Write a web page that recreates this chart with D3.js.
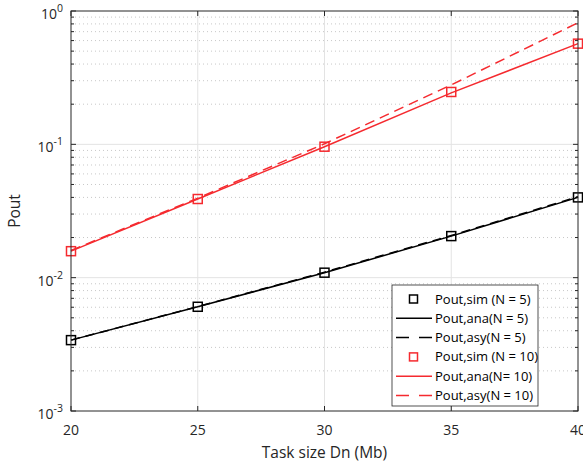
<!DOCTYPE html>
<html><head><meta charset="utf-8">
<script src="https://cdn.jsdelivr.net/npm/d3@7"></script>
<style>body{margin:0;background:#fff}text{font-family:"Open Sans","Liberation Sans",sans-serif}</style>
</head><body><svg id="c" width="583" height="466"></svg>
<script>
const taskSize = [20, 25, 30, 35, 40];
const simN5 = [0.0034, 0.00605, 0.0109, 0.0205, 0.040];
const anaN5 = [0.0034, 0.00605, 0.0109, 0.0205, 0.0400];
const asyN5 = [0.0034, 0.00607, 0.0110, 0.0207, 0.0405];
const simN10 = [0.0158, 0.0389, 0.096, 0.247, 0.569];
const anaN10 = [0.0158, 0.0389, 0.096, 0.243, 0.569];
const asyN10 = [0.0160, 0.0395, 0.101, 0.279, 0.817];
const xTicks = [20, 25, 30, 35, 40];
const yTickExp = [-3, -2, -1, 0];
const legendLabels = ["Pout,sim (N = 5)", "Pout,ana(N = 5)", "Pout,asy(N = 5)", "Pout,sim (N = 10)", "Pout,ana(N= 10)", "Pout,asy(N = 10)"];

const RED = "#f52a2f", BLACK = "#000";
const svg = d3.select("#c");
const L = 71, R = 578, T = 11, B = 411;
const x = d3.scaleLinear().domain([20, 40]).range([L, R]);
const y = d3.scaleLog().domain([1e-3, 1]).range([B, T]);

// grid
const g = svg.append("g");
const minors = [];
for (let e = -3; e < 0; e++) for (let m = 2; m <= 9; m++) minors.push(m * Math.pow(10, e));
g.selectAll(".mn").data(minors).enter().append("line")
  .attr("x1", L).attr("x2", R).attr("y1", d => y(d)).attr("y2", d => y(d))
  .attr("stroke", "#c8c8c8").attr("stroke-width", 1).attr("stroke-dasharray", "1,3");
g.selectAll(".mj").data([1e-2, 1e-1]).enter().append("line")
  .attr("x1", L).attr("x2", R).attr("y1", d => y(d)).attr("y2", d => y(d))
  .attr("stroke", "#e3e3e3").attr("stroke-width", 1);
g.selectAll(".vx").data(xTicks.slice(1, -1)).enter().append("line")
  .attr("x1", d => x(d)).attr("x2", d => x(d)).attr("y1", T).attr("y2", B)
  .attr("stroke", "#e3e3e3").attr("stroke-width", 1);

// ticks
const tk = svg.append("g").attr("stroke", "#262626").attr("stroke-width", 1);
xTicks.forEach(v => {
  tk.append("line").attr("x1", x(v)).attr("x2", x(v)).attr("y1", B).attr("y2", B - 5);
  tk.append("line").attr("x1", x(v)).attr("x2", x(v)).attr("y1", T).attr("y2", T + 5);
});
yTickExp.forEach(e => {
  const yy = y(Math.pow(10, e));
  tk.append("line").attr("x1", L).attr("x2", L + 5).attr("y1", yy).attr("y2", yy);
  tk.append("line").attr("x1", R).attr("x2", R - 5).attr("y1", yy).attr("y2", yy);
});
minors.forEach(d => {
  tk.append("line").attr("x1", L).attr("x2", L + 3).attr("y1", y(d)).attr("y2", y(d));
  tk.append("line").attr("x1", R).attr("x2", R - 3).attr("y1", y(d)).attr("y2", y(d));
});

// lines
const line = d3.line().x((d, i) => x(taskSize[i])).y(d => y(d));
function drawLine(data, color, dash, w) {
  svg.append("path").attr("d", line(data)).attr("fill", "none").attr("stroke", color)
    .attr("stroke-width", w).attr("stroke-dasharray", dash);
}
drawLine(anaN5, BLACK, null, 1.5);
drawLine(asyN5, BLACK, "9,6", 1.5);
drawLine(anaN10, RED, null, 1.5);
drawLine(asyN10, RED, "10,6", 1.5);

function markers(data, color) {
  svg.append("g").selectAll("rect").data(data).enter().append("rect")
    .attr("x", (d, i) => x(taskSize[i]) - 4.5).attr("y", d => y(d) - 4.5)
    .attr("width", 9).attr("height", 9).attr("fill", "none")
    .attr("stroke", color).attr("stroke-width", 1.5);
}
markers(simN5, BLACK);
markers(simN10, RED);

// box
svg.append("rect").attr("x", L).attr("y", T).attr("width", R - L).attr("height", B - T)
  .attr("fill", "none").attr("stroke", "#262626").attr("stroke-width", 1);

// tick labels
xTicks.forEach(v => {
  svg.append("text").attr("x", x(v)).attr("y", B + 24).attr("text-anchor", "middle")
    .attr("font-size", 14).attr("fill", "#262626").text(v);
});
yTickExp.forEach(e => {
  const yy = y(Math.pow(10, e));
  const t = svg.append("text").attr("x", L - 8).attr("y", yy + 8).attr("text-anchor", "end")
    .attr("font-size", 14).attr("fill", "#262626");
  t.append("tspan").text("10");
  t.append("tspan").attr("dy", -7).attr("font-size", 10.5).text(e);
});

// axis labels
svg.append("text").attr("x", (L + R) / 2).attr("y", 458).attr("text-anchor", "middle")
  .attr("font-size", 15.5).attr("fill", "#262626").text("Task size Dn (Mb)");
svg.append("text").attr("transform", `translate(20,${(T + B) / 2}) rotate(-90)`)
  .attr("text-anchor", "middle").attr("font-size", 15.5).attr("fill", "#262626").text("Pout");

// legend
const lg = svg.append("g");
lg.append("rect").attr("x", 392).attr("y", 285).attr("width", 146).attr("height", 121)
  .attr("fill", "#fff").attr("stroke", "#262626").attr("stroke-width", 0.8);
const styles = [
  {c: BLACK, t: "m"}, {c: BLACK, t: "s"}, {c: BLACK, t: "d"},
  {c: RED, t: "m"}, {c: RED, t: "s"}, {c: RED, t: "d"}
];
styles.forEach((s, i) => {
  const yy = 299 + i * 19.3;
  if (s.t === "m") {
    lg.append("rect").attr("x", 409.5).attr("y", yy - 4).attr("width", 8).attr("height", 8)
      .attr("fill", "none").attr("stroke", s.c).attr("stroke-width", 1.5);
  } else {
    lg.append("line").attr("x1", 396).attr("x2", 432).attr("y1", yy).attr("y2", yy)
      .attr("stroke", s.c).attr("stroke-width", 1.5)
      .attr("stroke-dasharray", s.t === "d" ? "13,10" : null);
  }
  lg.append("text").attr("x", 435).attr("y", yy + 4.5).attr("font-size", 13)
    .attr("fill", "#000").text(legendLabels[i]);
});
</script></body></html>
